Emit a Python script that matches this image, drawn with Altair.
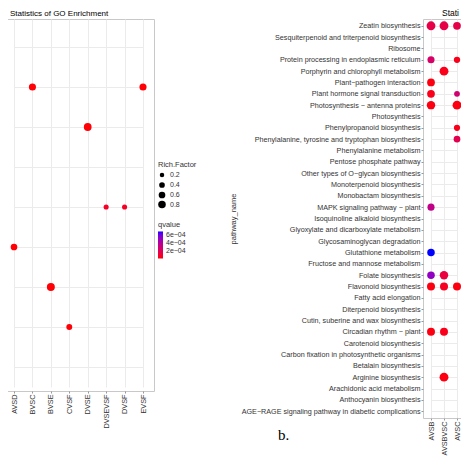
import altair as alt
import pandas as pd

# ---------------- left panel (GO enrichment, y labels cut off in the picture) -------------
left_title = "Statistics of GO Enrichment"
left_groups = ["AVSD", "BVSC", "BVSE", "CVSF", "DVSE", "DVSEVSF", "DVSF", "EVSF"]
left_terms = ["GO term 1", "GO term 2", "GO term 3", "GO term 4", "GO term 5",
              "GO term 6", "GO term 7", "GO term 8", "GO term 9"]
left_dot_term = ["GO term 2", "GO term 2", "GO term 3", "GO term 5", "GO term 5",
                 "GO term 6", "GO term 7", "GO term 8"]
left_dot_group = ["BVSC", "EVSF", "DVSE", "DVSEVSF", "DVSF", "AVSD", "BVSE", "CVSF"]
left_rich = [0.7, 0.7, 0.85, 0.3, 0.3, 0.6, 0.9, 0.45]
left_q = [3e-5, 3e-5, 3e-5, 8e-5, 8e-5, 3e-5, 3e-5, 3e-5]

# ---------------- right panel (pathway enrichment) ----------------
right_title = "Statistics of Pathway Enrichment"
right_groups = ["AVSB", "AVSBVSC", "AVSC"]
pathways = [
    "Zeatin biosynthesis",
    "Sesquiterpenoid and triterpenoid biosynthesis",
    "Ribosome",
    "Protein processing in endoplasmic reticulum",
    "Porphyrin and chlorophyll metabolism",
    "Plant\u2212pathogen interaction",
    "Plant hormone signal transduction",
    "Photosynthesis \u2212 antenna proteins",
    "Photosynthesis",
    "Phenylpropanoid biosynthesis",
    "Phenylalanine, tyrosine and tryptophan biosynthesis",
    "Phenylalanine metabolism",
    "Pentose phosphate pathway",
    "Other types of O\u2212glycan biosynthesis",
    "Monoterpenoid biosynthesis",
    "Monobactam biosynthesis",
    "MAPK signaling pathway \u2212 plant",
    "Isoquinoline alkaloid biosynthesis",
    "Glyoxylate and dicarboxylate metabolism",
    "Glycosaminoglycan degradation",
    "Glutathione metabolism",
    "Fructose and mannose metabolism",
    "Folate biosynthesis",
    "Flavonoid biosynthesis",
    "Fatty acid elongation",
    "Diterpenoid biosynthesis",
    "Cutin, suberine and wax biosynthesis",
    "Circadian rhythm \u2212 plant",
    "Carotenoid biosynthesis",
    "Carbon fixation in photosynthetic organisms",
    "Betalain biosynthesis",
    "Arginine biosynthesis",
    "Arachidonic acid metabolism",
    "Anthocyanin biosynthesis",
    "AGE\u2212RAGE signaling pathway in diabetic complications",
]
right_dot_path = [
    pathways[0], pathways[0], pathways[0],
    pathways[3], pathways[3],
    pathways[4],
    pathways[5],
    pathways[6], pathways[6],
    pathways[7], pathways[7],
    pathways[9],
    pathways[10],
    pathways[16],
    pathways[20],
    pathways[22], pathways[22],
    pathways[23], pathways[23], pathways[23],
    pathways[27], pathways[27],
    pathways[31],
]
right_dot_group = [
    "AVSB", "AVSBVSC", "AVSC",
    "AVSB", "AVSC",
    "AVSBVSC",
    "AVSB",
    "AVSB", "AVSC",
    "AVSB", "AVSC",
    "AVSC",
    "AVSC",
    "AVSB",
    "AVSB",
    "AVSB", "AVSBVSC",
    "AVSB", "AVSBVSC", "AVSC",
    "AVSB", "AVSBVSC",
    "AVSBVSC",
]
right_rich = [0.98, 0.98, 0.75,
              0.63, 0.5,
              0.98,
              0.75,
              0.75, 0.42,
              0.89, 0.98,
              0.48,
              0.55,
              0.63,
              0.71,
              0.71, 0.89,
              0.8, 0.8, 0.8,
              0.8, 0.8,
              0.98]
right_q = [2.2e-4, 2.2e-4, 2.2e-4,
           3.5e-4, 5e-5,
           5e-5,
           3e-5,
           5e-5, 4e-4,
           3e-5, 3e-5,
           5e-5,
           2.5e-4,
           5e-4,
           1e-3,
           7.5e-4, 1.8e-4,
           3e-5, 8e-5, 3e-5,
           3e-5, 5e-5,
           3e-5]

left_df = pd.DataFrame({"term": left_dot_term, "group": left_dot_group,
                        "rich": left_rich, "q": left_q})
right_df = pd.DataFrame({"pathway_name": right_dot_path, "group": right_dot_group,
                         "rich": right_rich, "q": right_q})

FONT = "Liberation Sans"
TXT = "#333333"
GRID = "#ebebeb"
TICK = "#999999"

left = alt.Chart(left_df).mark_circle(opacity=1).encode(
    x=alt.X("group:N",
            scale=alt.Scale(type="point", domain=left_groups, range=[11, 140], padding=0),
            axis=alt.Axis(title=None, labelAngle=270, labelFont=FONT, labelFontSize=7.3,
                          labelColor=TXT, ticks=True, tickSize=2, tickColor=TICK,
                          domain=False, grid=True, gridColor=GRID, labelPadding=1)),
    y=alt.Y("term:N",
            scale=alt.Scale(type="point", domain=left_terms, padding=0.6, range=[4, 372]),
            axis=alt.Axis(title=None, labels=False, ticks=False, domain=False,
                          grid=True, gridColor=GRID)),
    size=alt.Size("rich:Q",
                  scale=alt.Scale(domain=[0.2, 0.8], range=[20, 57]),
                  legend=alt.Legend(title="Rich.Factor", values=[0.2, 0.4, 0.6, 0.8],
                                    orient="none", legendX=155, legendY=142,
                                    symbolFillColor="black", symbolStrokeColor="black",
                                    symbolStrokeWidth=0, labelFont=FONT, titleFont=FONT,
                                    labelFontSize=7, titleFontSize=7.5,
                                    titleFontWeight="normal", titleColor=TXT, labelColor=TXT,
                                    rowPadding=2, labelOffset=4, titlePadding=3)),
    color=alt.Color("q:Q",
                    scale=alt.Scale(domain=[2.5e-5, 6.75e-4], range=["#ff0000", "#0000ff"],
                                    interpolate="lab"),
                    legend=alt.Legend(title="qvalue", values=[2e-4, 4e-4, 6e-4],
                                      orient="none", legendX=155, legendY=202,
                                      gradientLength=27, gradientThickness=5,
                                      labelFont=FONT, titleFont=FONT,
                                      labelFontSize=7, titleFontSize=7.5,
                                      titleFontWeight="normal", titleColor=TXT, labelColor=TXT,
                                      labelExpr="replace(format(datum.value, '.0e'), 'e-', 'e\u22120')",
                                      titlePadding=3, labelOffset=3)),
).properties(
    width=151, height=372,
    title=alt.TitleParams(left_title, anchor="start", frame="group", font=FONT,
                          fontSize=8, fontWeight="normal", color="black", offset=1, dx=7),
)

right_pts = alt.Chart(right_df).mark_circle(opacity=1).encode(
    x=alt.X("group:N",
            scale=alt.Scale(type="point", domain=right_groups, range=[8, 34], padding=0),
            axis=alt.Axis(title=None, labelAngle=270, labelFont=FONT, labelFontSize=7.3,
                          labelColor=TXT, ticks=True, tickSize=2, tickColor=TICK,
                          domain=False, grid=True, gridColor=GRID, labelPadding=1)),
    y=alt.Y("pathway_name:N",
            scale=alt.Scale(type="point", domain=pathways, padding=0.6),
            axis=alt.Axis(title="pathway_name", labelFont=FONT, labelFontSize=7.2,
                          labelColor=TXT, ticks=True, tickSize=2, tickColor=TICK,
                          domain=False, grid=True, gridColor=GRID, labelPadding=1,
                          labelLimit=400, titleFont=FONT, titleFontSize=7.5,
                          titleFontWeight="normal", titleColor=TXT, titlePadding=4)),
    size=alt.Size("rich:Q", scale=alt.Scale(domain=[0, 1], range=[0, 80]),
                  legend=None),
    color=alt.Color("q:Q",
                    scale=alt.Scale(domain=[0, 1e-3], range=["#ff0000", "#0000ff"],
                                    interpolate="lab"),
                    legend=None),
)

btext = alt.Chart(pd.DataFrame({"t": ["b."]})).mark_text(
    font="Liberation Serif", fontSize=15, color="black", align="left", baseline="alphabetic"
).encode(x=alt.value(-145), y=alt.value(421), text="t:N")

# panel title, cut at the right edge like in the picture
rtitle = alt.Chart(pd.DataFrame({"t": [right_title]})).mark_text(
    font=FONT, fontSize=8.5, color="black", align="left", baseline="alphabetic",
    limit=18, ellipsis="\u200b"
).encode(x=alt.value(19), y=alt.value(-3), text="t:N")

right = alt.layer(right_pts, btext, rtitle).properties(width=46, height=399)

chart = alt.hconcat(left, right, spacing=30).resolve_scale(
    color="independent", size="independent", x="independent", y="independent"
).properties(
    padding={"left": -6, "top": 0, "right": -9, "bottom": 0}, background="white"
).configure(font=FONT).configure_view(stroke="#c8c8c8", strokeWidth=1)

chart.save("out.html", embed_options={"renderer": "svg", "actions": False})
